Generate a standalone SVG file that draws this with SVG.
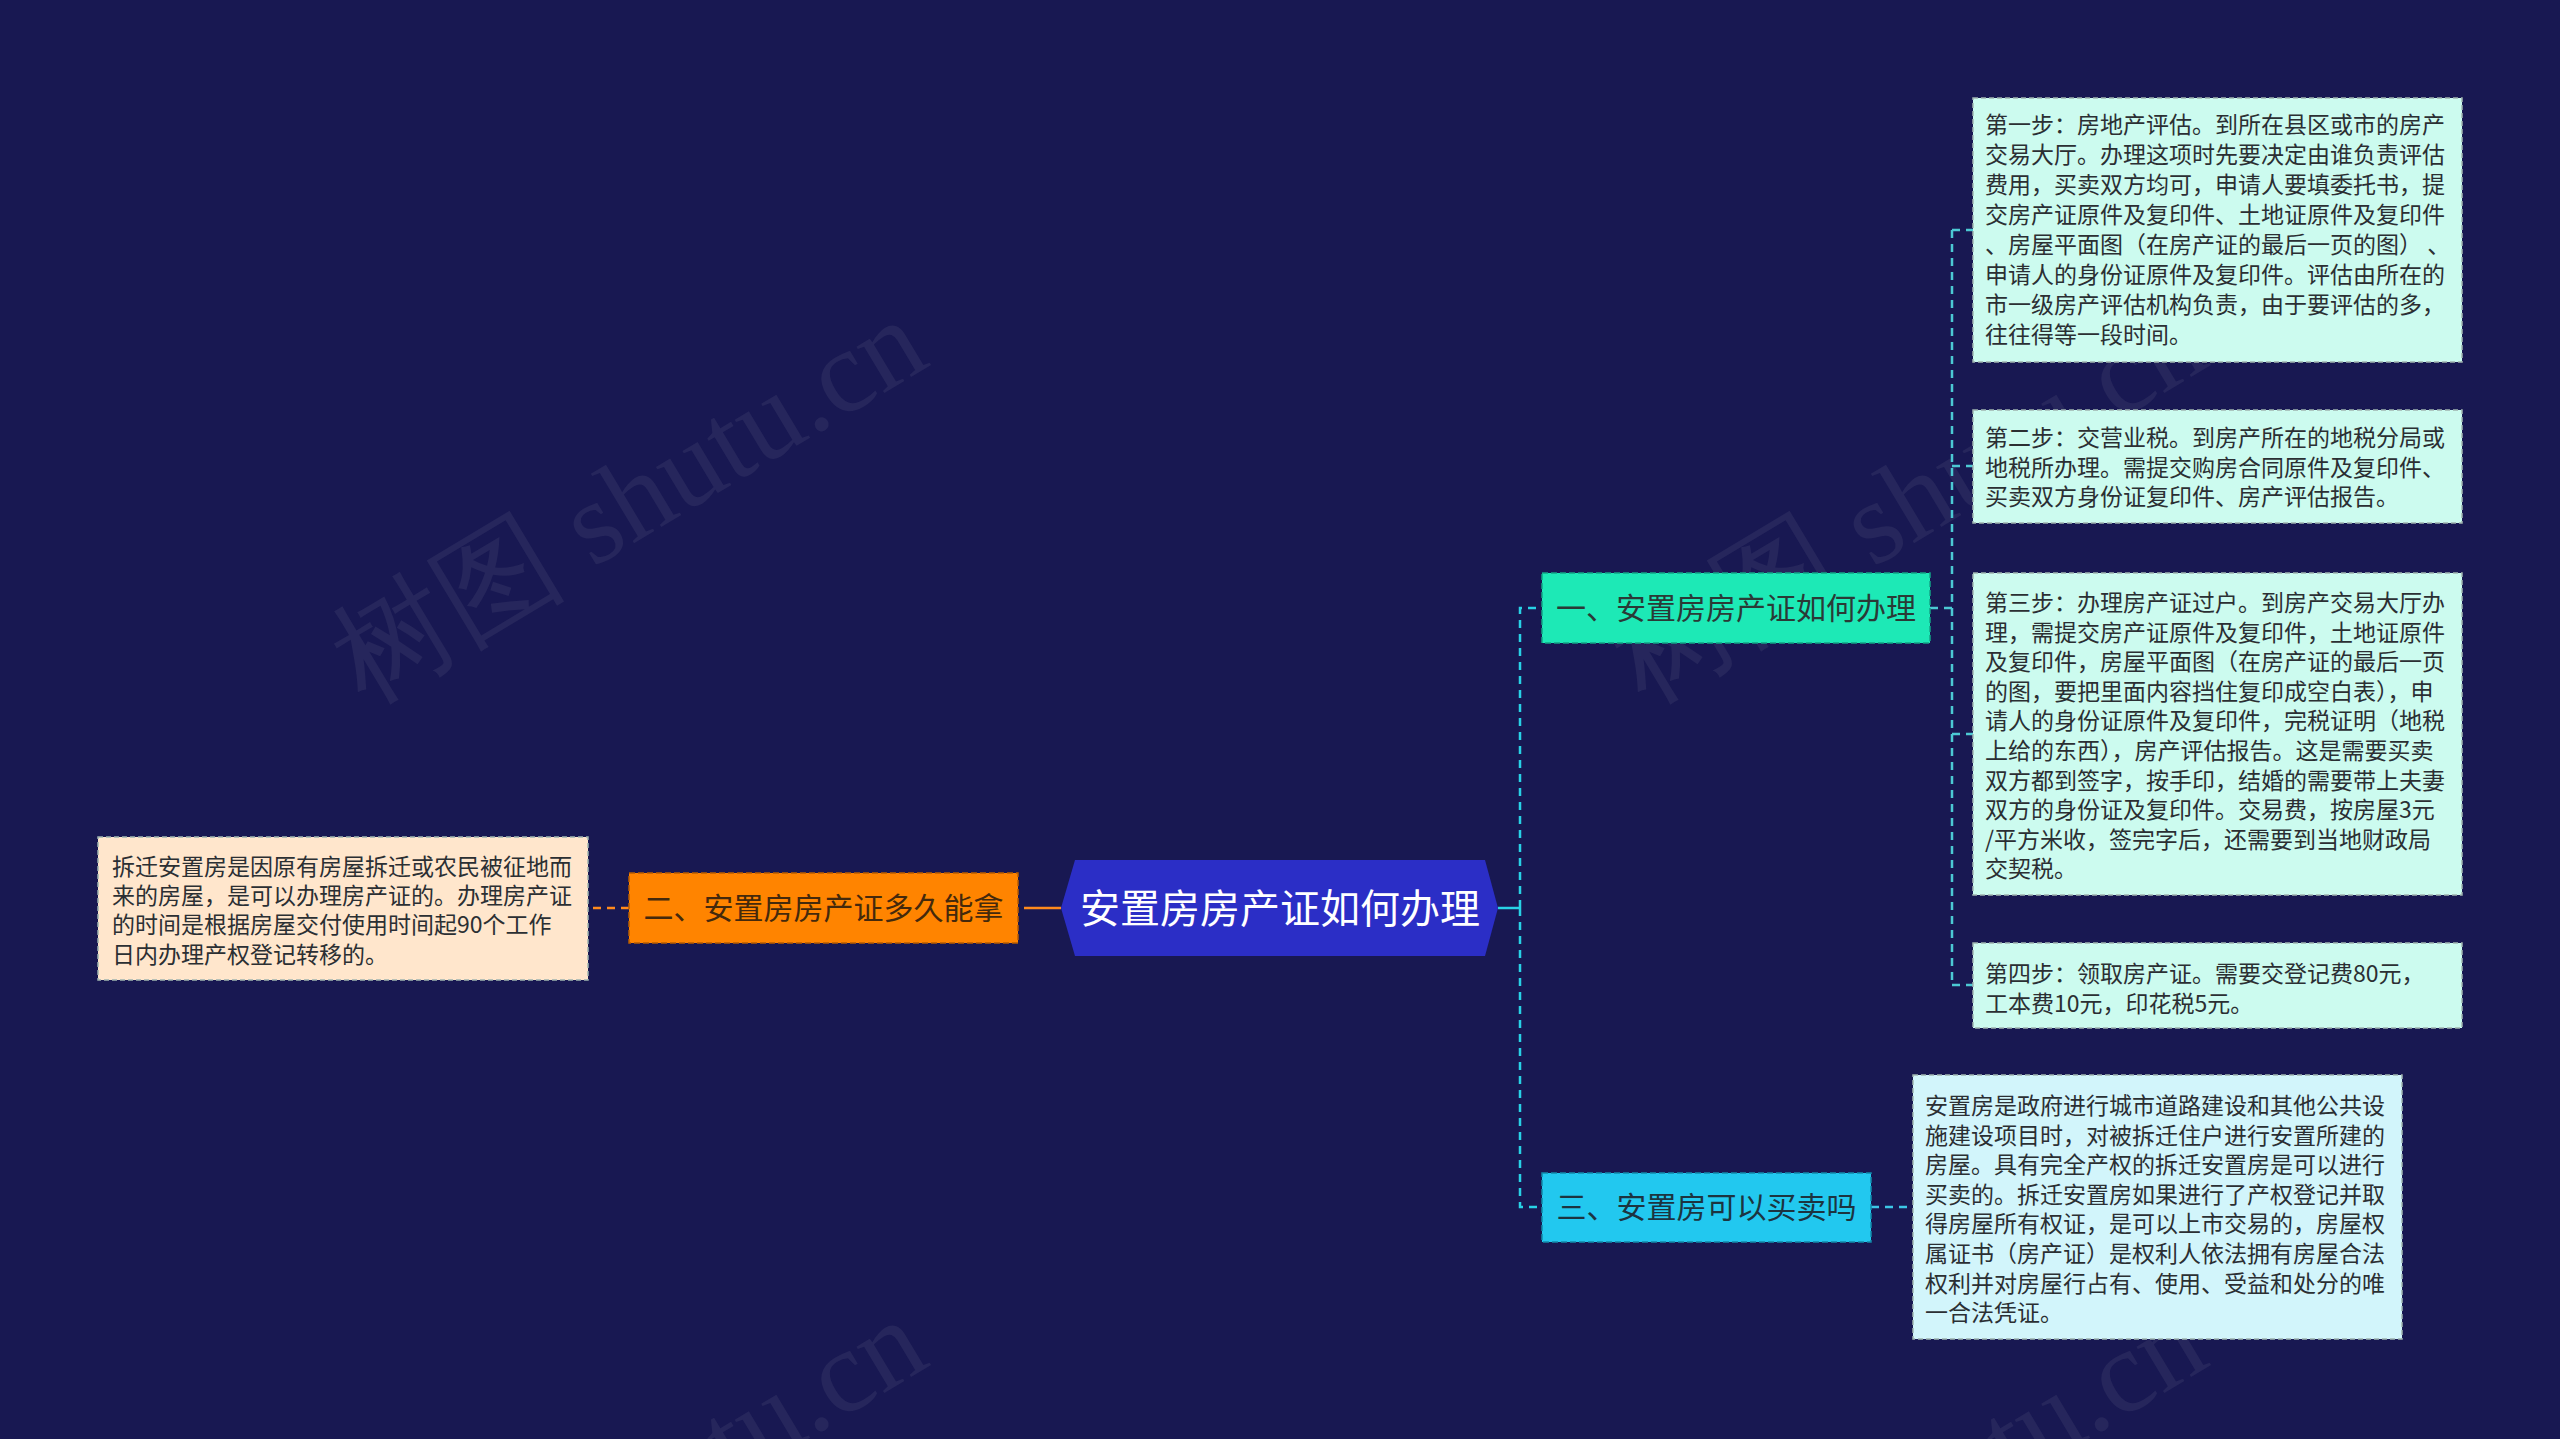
<svg xmlns="http://www.w3.org/2000/svg" width="2560" height="1439" viewBox="0 0 2560 1439">
<style>
.wm{font-family:"Liberation Serif","DejaVu Serif",serif;font-size:118px;fill:#8a8aa8;fill-opacity:0.12}
.leaf{font-family:"Noto Sans CJK SC","Noto Sans",sans-serif;font-size:23px;fill:#2b2f33}
.l1{font-family:"Noto Sans CJK SC","Noto Sans",sans-serif;font-size:30px;text-anchor:middle}
.dash{fill:none;stroke-width:2.5;stroke-dasharray:8 6}
.solid{fill:none;stroke-width:2.5}
.lbox{stroke:#9fb4b0;stroke-width:1.5;stroke-dasharray:5 3}
</style>
<rect x="0" y="0" width="2560" height="1439" fill="#181852"/>
<g id="watermarks">
<text class="wm" transform="translate(365 705) rotate(-31)">树图 shutu.cn</text>
<text class="wm" transform="translate(1645 705) rotate(-31)">树图 shutu.cn</text>
<text class="wm" transform="translate(365 1705) rotate(-31)">树图 shutu.cn</text>
<text class="wm" transform="translate(1645 1705) rotate(-31)">树图 shutu.cn</text>
</g>
<g id="connectors">
<path class="solid" stroke="#28d2e6" d="M1498 908H1520"/>
<path class="dash" stroke="#28d2e6" d="M1520 908V608H1542M1520 908V1207H1542"/>
<path class="dash" stroke="#4cc9d4" d="M1930 608H1952M1952 230V985M1952 230H1973M1952 466H1973M1952 734H1973M1952 985H1973"/>
<path class="dash" stroke="#3cc6e6" d="M1871 1207H1913"/>
<path class="solid" stroke="#ff8a1c" d="M1061 908H1032"/>
<path class="dash" stroke="#ff8a1c" d="M1032 908H1018M629 908H588"/>
</g>
<g id="center">
<polygon points="1061,908 1075,860 1485,860 1498,908 1485,956 1075,956" fill="#2b2ec6"/>
<text x="1280" y="923" font-family="Noto Sans CJK SC, Noto Sans, sans-serif" font-size="40" fill="#ffffff" text-anchor="middle">安置房房产证如何办理</text>
</g>
<g id="node1">
<rect x="1542" y="573" width="388" height="70" fill="#1de9b6" stroke="#12a486" stroke-width="1.5" stroke-dasharray="6 3"/>
<text class="l1" x="1736" y="619" fill="#2a3a36">一、安置房房产证如何办理</text>
</g>
<g id="node2">
<rect x="629" y="873" width="389" height="70" fill="#ff8400" stroke="#b85c00" stroke-width="1.5" stroke-dasharray="6 3"/>
<text class="l1" x="823.5" y="919" fill="#44290c">二、安置房房产证多久能拿</text>
</g>
<g id="node3">
<rect x="1542" y="1173" width="329" height="69" fill="#22c8ef" stroke="#1289aa" stroke-width="1.5" stroke-dasharray="6 3"/>
<text class="l1" x="1706.5" y="1218" fill="#1c3440">三、安置房可以买卖吗</text>
</g>
<g id="step1">
<rect class="lbox" x="1973" y="98" width="489" height="264" fill="#ccfbef"/>
<text class="leaf" x="1985" y="133"><tspan x="1985">第一步：房地产评估。到所在县区或市的房产</tspan><tspan x="1985" dy="30">交易大厅。办理这项时先要决定由谁负责评估</tspan><tspan x="1985" dy="30">费用，买卖双方均可，申请人要填委托书，提</tspan><tspan x="1985" dy="30">交房产证原件及复印件、土地证原件及复印件</tspan><tspan x="1985" dy="30">、房屋平面图（在房产证的最后一页的图） 、</tspan><tspan x="1985" dy="30">申请人的身份证原件及复印件。评估由所在的</tspan><tspan x="1985" dy="30">市一级房产评估机构负责，由于要评估的多，</tspan><tspan x="1985" dy="30">往往得等一段时间。</tspan></text>
</g>
<g id="step2">
<rect class="lbox" x="1973" y="410" width="489" height="113" fill="#ccfbef"/>
<text class="leaf" x="1985" y="446"><tspan x="1985">第二步：交营业税。到房产所在的地税分局或</tspan><tspan x="1985" dy="29.6">地税所办理。需提交购房合同原件及复印件、</tspan><tspan x="1985" dy="29.6">买卖双方身份证复印件、房产评估报告。</tspan></text>
</g>
<g id="step3">
<rect class="lbox" x="1973" y="573" width="489" height="322" fill="#ccfbef"/>
<text class="leaf" x="1985" y="611"><tspan x="1985">第三步：办理房产证过户。到房产交易大厅办</tspan><tspan x="1985" dy="29.6">理，需提交房产证原件及复印件，土地证原件</tspan><tspan x="1985" dy="29.6">及复印件，房屋平面图（在房产证的最后一页</tspan><tspan x="1985" dy="29.6">的图，要把里面内容挡住复印成空白表），申</tspan><tspan x="1985" dy="29.6">请人的身份证原件及复印件，完税证明（地税</tspan><tspan x="1985" dy="29.6">上给的东西），房产评估报告。这是需要买卖</tspan><tspan x="1985" dy="29.6">双方都到签字，按手印，结婚的需要带上夫妻</tspan><tspan x="1985" dy="29.6">双方的身份证及复印件。交易费，按房屋3元</tspan><tspan x="1985" dy="29.6">/平方米收，签完字后，还需要到当地财政局</tspan><tspan x="1985" dy="29.6">交契税。</tspan></text>
</g>
<g id="step4">
<rect class="lbox" x="1973" y="943" width="489" height="85" fill="#ccfbef"/>
<text class="leaf" x="1985" y="982"><tspan x="1985">第四步：领取房产证。需要交登记费80元，</tspan><tspan x="1985" dy="30">工本费10元，印花税5元。</tspan></text>
</g>
<g id="answer3">
<rect class="lbox" x="1913" y="1075" width="489" height="264" fill="#d2f5fb"/>
<text class="leaf" x="1925" y="1114"><tspan x="1925">安置房是政府进行城市道路建设和其他公共设</tspan><tspan x="1925" dy="29.6">施建设项目时，对被拆迁住户进行安置所建的</tspan><tspan x="1925" dy="29.6">房屋。具有完全产权的拆迁安置房是可以进行</tspan><tspan x="1925" dy="29.6">买卖的。拆迁安置房如果进行了产权登记并取</tspan><tspan x="1925" dy="29.6">得房屋所有权证，是可以上市交易的，房屋权</tspan><tspan x="1925" dy="29.6">属证书（房产证）是权利人依法拥有房屋合法</tspan><tspan x="1925" dy="29.6">权利并对房屋行占有、使用、受益和处分的唯</tspan><tspan x="1925" dy="29.6">一合法凭证。</tspan></text>
</g>
<g id="answer2">
<rect class="lbox" x="98" y="837" width="490" height="143" fill="#ffe6cc" stroke="#b8a890"/>
<text class="leaf" x="112" y="875"><tspan x="112">拆迁安置房是因原有房屋拆迁或农民被征地而</tspan><tspan x="112" dy="29.2">来的房屋，是可以办理房产证的。办理房产证</tspan><tspan x="112" dy="29.2">的时间是根据房屋交付使用时间起90个工作</tspan><tspan x="112" dy="29.2">日内办理产权登记转移的。</tspan></text>
</g>
</svg>
